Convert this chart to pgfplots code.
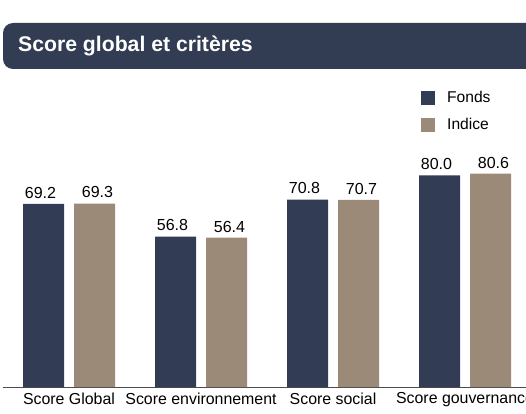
\documentclass[border=0pt]{standalone}
\usepackage{pgfplots}
\pgfplotsset{compat=1.18}
\usepackage{fontspec}
\setmainfont{Liberation Sans}
\definecolor{fonds}{HTML}{323C54}
\definecolor{indice}{HTML}{9B8A77}
\definecolor{banner}{HTML}{323C52}
\begin{document}
\begin{tikzpicture}
\useasboundingbox (0,0) rectangle (526pt,413pt);
\clip (0,0) rectangle (526pt,413pt);
\fill[banner, rounded corners=10pt] (3pt,344pt) rectangle (560pt,390pt);
\node[anchor=west, text=white, font=\fontsize{21.2}{24}\selectfont\bfseries, inner sep=0pt] at (18pt,367pt) {Score global et critères};
\begin{axis}[
  at={(3pt,26pt)}, anchor=south west,
  scale only axis, width=523pt, height=307pt,
  xmin=-0.5, xmax=3.462, ymin=0, ymax=116,
  ybar=10pt, bar width=41pt,
  axis y line=none,
  axis x line*=bottom,
  x axis line style={draw=black!70, line width=0.8pt},
  xtick={0,1,2,3},
  xticklabels={Score Global, Score environnement, Score social, Score gouvernance},
  major tick length=0pt,
  xticklabel style={font=\fontsize{15.9}{18}\selectfont, yshift=-2pt},
  nodes near coords,
  nodes near coords style={font=\fontsize{16}{18}\selectfont, text=black, yshift=2pt, /pgf/number format/fixed, /pgf/number format/precision=1, /pgf/number format/fixed zerofill, /pgf/number format/assume math mode=true},
  legend style={draw=none, at={(0.7992,0.97)}, anchor=north west, inner sep=0pt, font=\fontsize{15.6}{18}\selectfont, row sep=10pt, column sep=10pt, cells={anchor=west}},
  legend image code/.code={\fill[#1] (0pt,-7pt) rectangle (14pt,7pt);},
  clip=false,
]
\addplot[fill=fonds, draw=none, nodes near coords style={xshift=-3pt}] coordinates {(0,69.2) (1,56.8) (2,70.8) (3,80.0)};
\addplot[fill=indice, draw=none, nodes near coords style={xshift=3pt}] coordinates {(0,69.3) (1,56.4) (2,70.7) (3,80.6)};
\legend{Fonds, Indice}
\end{axis}
\end{tikzpicture}
\end{document}
